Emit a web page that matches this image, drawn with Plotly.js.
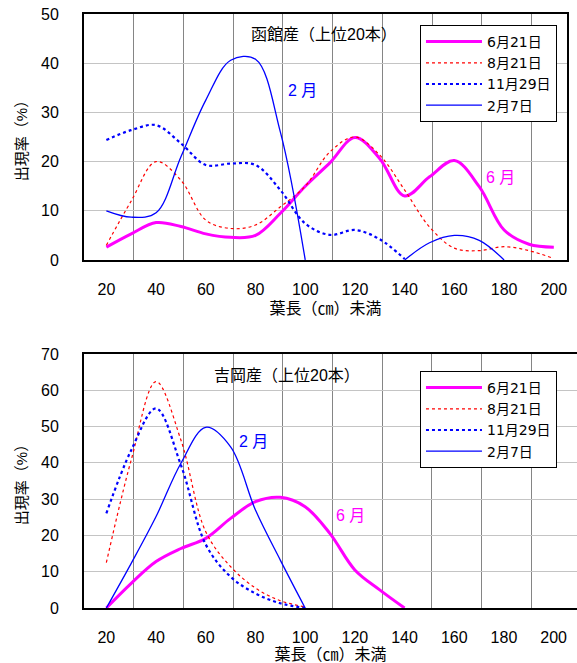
<!DOCTYPE html>
<html><head><meta charset="utf-8">
<script src="https://cdn.plot.ly/plotly-3.0.1.min.js"></script>
<style>html,body{margin:0;padding:0;background:#fff}#c{width:577px;height:663px}</style>
</head><body><div id="c"></div>
<script>
// shared leaf-length classes (cm, "未満")
const lengths = [20,30,40,50,60,70,80,90,100,110,120,130,140,150,160,170,180,190,200];
const tickVals = [20,40,60,80,100,120,140,160,180,200];
const seriesNames = ['6月21日','8月21日','11月29日','2月7日'];

// 函館産 (top)
const hakodate_0621 = [2.6,5.3,7.6,6.8,5.3,4.6,5.0,9.5,15.0,19.8,24.9,20.6,13.0,16.9,20.2,14.9,6.1,3.2,2.6];
const hakodate_0821 = [3.0,12.0,20.0,16.2,8.1,6.4,7.1,10.8,15.0,22.0,25.0,21.3,14.2,6.7,2.4,1.9,2.7,1.9,0.3];
const hakodate_1129 = [24.4,26.4,27.4,23.7,19.3,19.6,19.3,14.2,7.4,5.1,6.1,4.2,0.2,null,null,null,null,null,null];
const hakodate_0207 = [10.0,8.7,9.6,21.0,32.5,40.6,40.8,26.0,0.0,null,null,null,0.0,3.5,5.0,4.0,0.0,null,null];

// 吉岡産 (bottom)
const yoshioka_0621 = [0.0,6.8,12.8,16.4,19.2,24.7,29.3,30.5,27.9,20.5,10.5,5.0,0.0,null,null,null,null,null,null];
const yoshioka_0821 = [12.5,40.8,62.4,46.3,21.0,11.4,5.5,2.0,0.3,null,null,null,null,null,null,null,null,null,null];
const yoshioka_1129 = [26.1,43.5,55.0,39.4,17.5,8.6,4.0,1.3,0.0,null,null,null,null,null,null,null,null,null,null];
const yoshioka_0207 = [0.0,12.3,25.2,39.9,49.8,44.4,27.0,13.2,0.0,null,null,null,null,null,null,null,null,null,null];

const FONT = '"Liberation Sans", Arial, "Noto Sans CJK JP", sans-serif';
const LFONT = '"DejaVu Sans", "Noto Sans CJK JP", sans-serif';
const styles = [
  {color:'#FF00FF', width:3, dash:'solid'},
  {color:'#FF0000', width:1.2, dash:'dot'},
  {color:'#0000FF', width:2.2, dash:'dot'},
  {color:'#0000FF', width:1.3, dash:'solid'}
];

function mk(ys, i, xa, ya, lg){
  return {x: lengths, y: ys, type:'scatter', mode:'lines', name: seriesNames[i],
    line:{color:styles[i].color, width:styles[i].width, dash:styles[i].dash, shape:'spline', smoothing:1},
    xaxis:xa, yaxis:ya, legend:lg, connectgaps:false, hoverinfo:'skip'};
}
const data = [
  mk(hakodate_0621,0,'x','y','legend'), mk(hakodate_0821,1,'x','y','legend'),
  mk(hakodate_1129,2,'x','y','legend'), mk(hakodate_0207,3,'x','y','legend'),
  mk(yoshioka_0621,0,'x2','y2','legend2'), mk(yoshioka_0821,1,'x2','y2','legend2'),
  mk(yoshioka_1129,2,'x2','y2','legend2'), mk(yoshioka_0207,3,'x2','y2','legend2')
];

const vgrid = [31,51,71,91,111,131,151,171,191];
function xax(domain, range, anchor){
  return {domain, range, anchor, tickvals: tickVals, ticktext: tickVals.map(String),
    showgrid:false, zeroline:false, showline:true, linecolor:'#000', linewidth:2, mirror:true,
    ticks:'', ticklabelstandoff:14, tickfont:{family:FONT,size:16,color:'#000'},
    minor:{tickvals: vgrid, showgrid:true, gridcolor:'#858585', gridwidth:1, ticks:''},
    title:{text:'葉長（㎝）未満', font:{family:FONT,size:16,color:'#000'}, standoff:6}};
}
function yax(domain, range, dtick, anchor, mirror){
  return {domain, range, anchor, dtick, tick0:0, showgrid:true, gridcolor:'#c4c4c4', gridwidth:1,
    zeroline:false, showline:true, linecolor:'#000', linewidth:2, mirror:mirror,
    ticks:'', ticklabelstandoff:20, tickfont:{family:FONT,size:16,color:'#000'},
    title:{text:'出現率（%）', font:{family:FONT,size:15,color:'#000'}, standoff:10}};
}
const legendBase = {bgcolor:'#fff', bordercolor:'#000', borderwidth:1,
  font:{family:LFONT,size:14,color:'#000'}, xanchor:'left', yanchor:'top', tracegroupgap:0, itemwidth:56};

const ann = (t, x, y, xr, yr, c) => ({text:t, x, y, xref:xr, yref:yr, showarrow:false,
  font:{family:FONT, size:16, color:c}});

const layout = {
  width:577, height:663, paper_bgcolor:'#fff', plot_bgcolor:'#fff',
  margin:{l:84, r:0, t:14, b:55},
  showlegend:true,
  xaxis: xax([0,0.9797],[11,205.3],'y'),
  yaxis: yax([0.5859,1],[0,50],10,'x',true),
  xaxis2: xax([0,1],[11,209.4],'y2'),
  yaxis2: yax([0,0.4276],[0,70],10,'x2',false),
  legend: Object.assign({x:0.6815, y:0.9815}, legendBase),
  legend2: Object.assign({x:0.6815, y:0.399}, legendBase),
  annotations:[
    ann('函館産（上位20本）',107.4,45.8,'x','y','#000'),
    ann('2 月',98.7,34.5,'x','y','#0000FF'),
    ann('6 月',178.4,16.8,'x','y','#FF00FF'),
    ann('吉岡産（上位20本）',92.5,64.2,'x2','y2','#000'),
    ann('2 月',79.4,45.8,'x2','y2','#0000FF'),
    ann('6 月',118.4,25.6,'x2','y2','#FF00FF')
  ]
};
Plotly.newPlot('c', data, layout, {staticPlot:true, displayModeBar:false});
</script></body></html>
